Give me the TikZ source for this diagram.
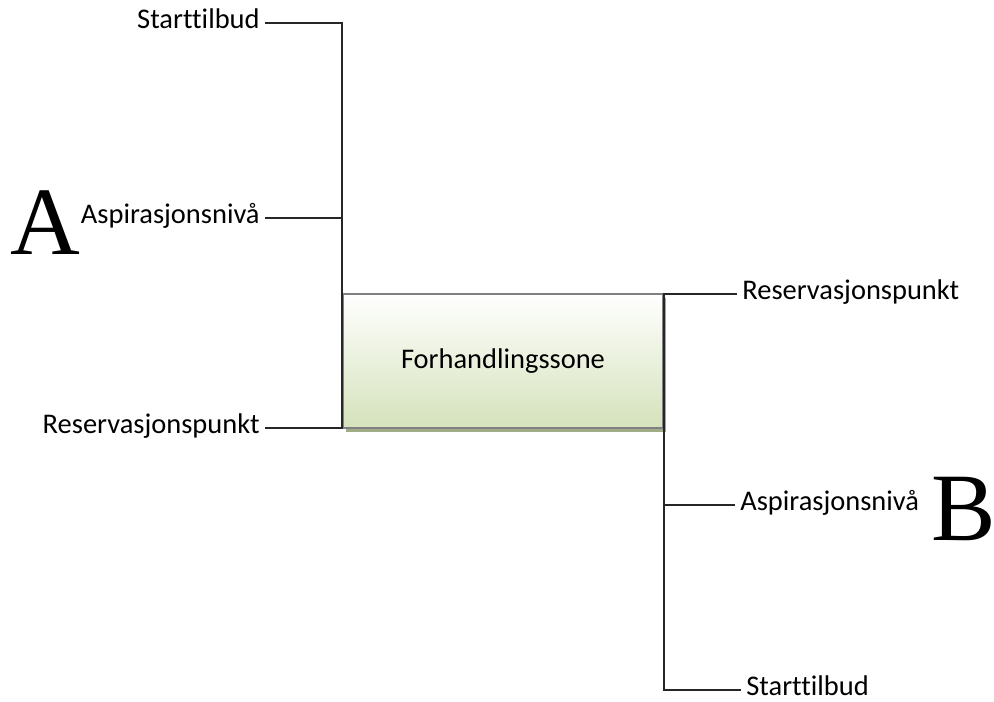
\documentclass[tikz,border=0pt]{standalone}
\usepackage{fontspec}
\setmainfont[Ligatures=NoCommon]{Carlito}
\newfontfamily\bigletter{Liberation Serif}
\usetikzlibrary{positioning, shadows}
\definecolor{zonegreen}{RGB}{213,226,187}
\definecolor{zoneshadow}{RGB}{160,172,136}
\definecolor{zoneborder}{RGB}{128,128,128}

\begin{document}
\begin{tikzpicture}
    [x=0.02cm, y=-0.02cm,
    label/.style={inner xsep=0.1cm, inner ysep=0pt, text height=1.38ex, text depth=0pt,
    font=\fontsize{16.2}{19}\selectfont},
    party/.style={inner sep=0pt, font=\bigletter\fontsize{55}{60}\selectfont},
    zone/.style={rectangle, draw=zoneborder, line width=1pt, top color=white, bottom color=zonegreen,
    minimum width=6.4cm, minimum height=2.68cm, inner sep=0pt,
    drop shadow={shadow xshift=0.06cm, shadow yshift=-0.08cm, fill=zoneshadow, opacity=1},
    font=\fontsize{16.2}{19}\selectfont},
    spine/.style={line width=1.1pt, draw=black!85}]
    \useasboundingbox (0,0) rectangle (994,702);
    \node [zone] (zone) at (503,361) {Forhandlingssone};
    % party A
    \node [label, anchor=east] (startA) at (265,23) {Starttilbud};
    \node [label, anchor=east] (aspA) at (265,218) {Aspirasjonsnivå};
    \node [label, anchor=east] (resA) at (265,428) {Reservasjonspunkt};
    \node [party, anchor=base west] (partyA) at (10,255) {A};
    % party B
    \node [label, anchor=west] (resB) at (737,294) {Reservasjonspunkt};
    \node [label, anchor=west] (aspB) at (735,505) {Aspirasjonsnivå};
    \node [label, anchor=west] (startB) at (741,690) {Starttilbud};
    \node [party, anchor=base west] (partyB) at (931,540) {B};

    \draw [spine] (startA) -- (startA -| zone.west) -- (zone.south west);
    \draw [spine] (aspA) -- (aspA -| zone.west);
    \draw [spine] (resA) -- (resA -| zone.west);
    \draw [spine] (resB) -- (resB -| zone.east) -- (startB -| zone.east) -- (startB);
    \draw [spine] (aspB) -- (aspB -| zone.east);
\end{tikzpicture}
\end{document}
